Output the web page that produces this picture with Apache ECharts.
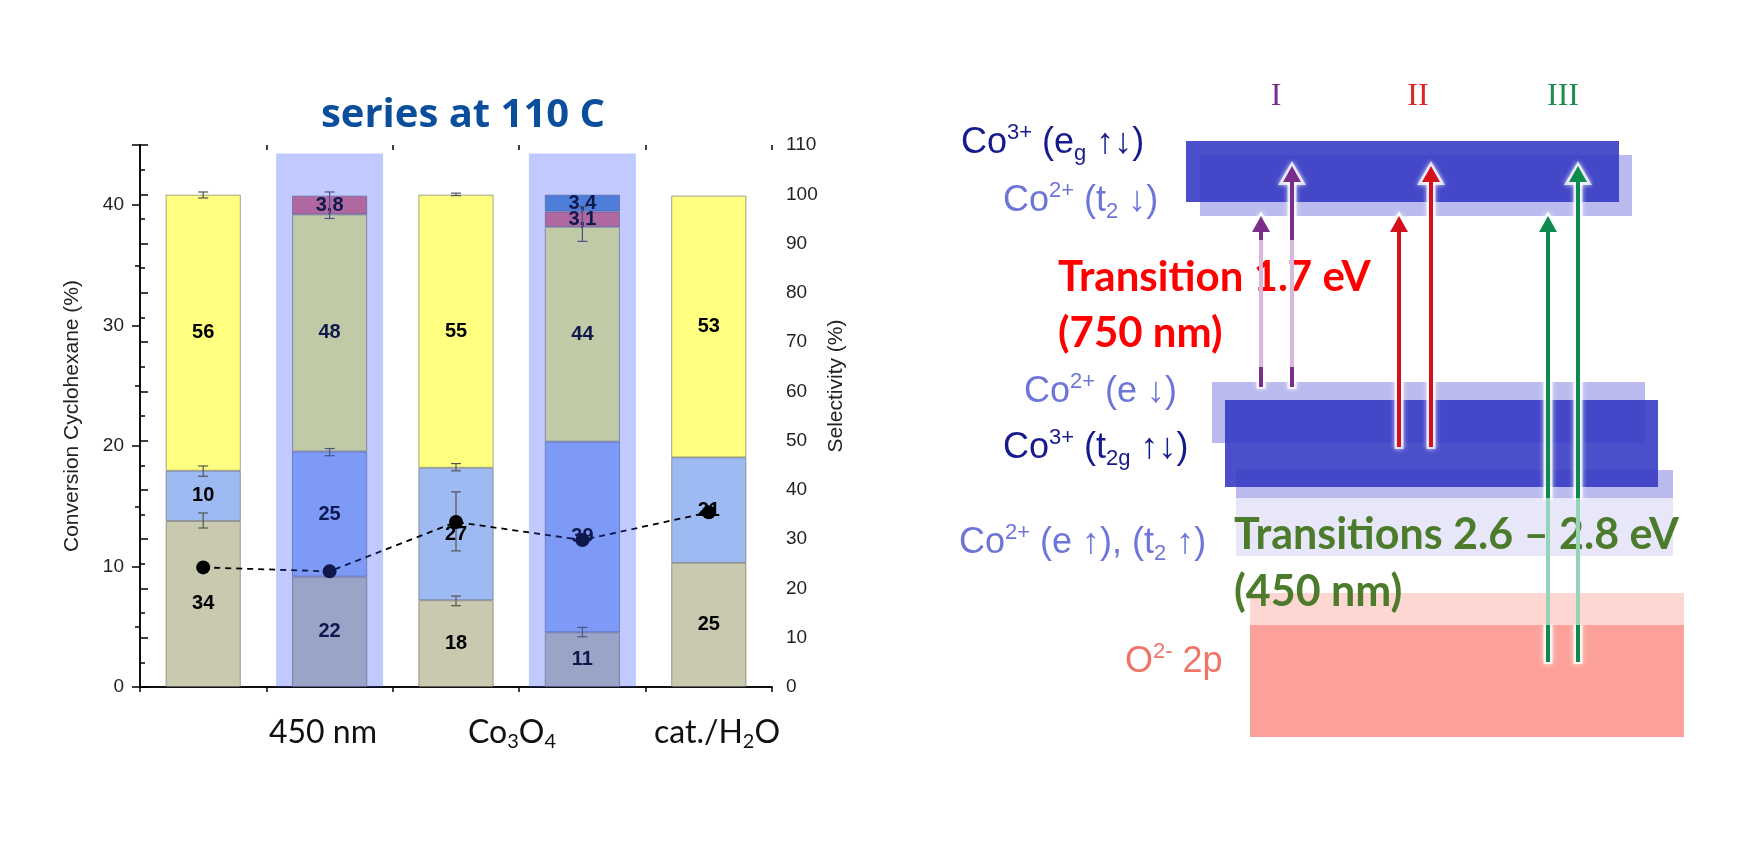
<!DOCTYPE html>
<html>
<head>
<meta charset="utf-8">
<script src="https://cdn.jsdelivr.net/npm/echarts@6.0.0/dist/echarts.min.js"></script>
<style>
  html, body { margin: 0; background: #fff; }
  #main { width: 1754px; height: 841px; }
</style>
</head>
<body>
<div id="main"></div>
<script>
// ---- left chart: five runs at 110 C ----
const runs = ['1', '2', '3', '4', '5'];
// selectivity (%), stacked bottom -> top
const selOlive = [33.7, 22.4, 17.6, 11.1, 25.2];
const selLightBlue = [10.2, 25.4, 26.9, 38.7, 21.4];
const selYellow = [56.0, 48.1, 55.4, 43.6, 53.1];
const selSalmon = [null, 3.8, null, 3.1, null];
const selSteel = [null, null, null, 3.4, null];
// conversion cyclohexane (%)
const conversion = [9.93, 9.6, 13.7, 12.2, 14.5];
// error bars, conversion scale
const errRun = [0, 0, 0, 1, 1, 2, 2, 2, 2, 3, 3];
const errLow = [40.6, 17.5, 13.2, 38.9, 19.2, 40.8, 17.95, 11.3, 6.75, 37.0, 4.17];
const errHigh = [41.1, 18.35, 14.45, 41.1, 19.8, 41.0, 18.55, 16.2, 7.55, 39.9, 4.95];
// irradiated runs (450 nm band)
const irradiated = [null, 44.3, null, 44.3, null];

// ---- right: energy level scheme (schematic units) ----
const levelX0 = [25.0, 23.6, 26.2, 28.6, 28.6, 27.5, 30.0, 30.0];
const levelX1 = [68.2, 66.9, 69.5, 72.3, 72.3, 70.8, 73.4, 73.4];
const levelY0 = [54.4, 55.8, 31.7, 26.2, 20.4, 27.3, 13.5, 2.3];
const levelY1 = [60.5, 61.9, 37.8, 29.0, 26.2, 36.0, 16.7, 13.5];
const arrowX = [31.1, 34.2, 44.9, 48.1, 59.8, 62.8];
const arrowFrom = [37.3, 37.3, 31.3, 31.3, 9.8, 9.8];
const arrowTo = [54.4, 59.4, 54.4, 59.4, 54.4, 59.4];
const fadeFrom = [39.3, 39.3, null, null, 13.5, 13.5];
const fadeTo = [52.0, 52.0, null, null, 26.2, 26.2];

// styles
const dark = 'rgba(50,55,195,0.88)';
const light = 'rgba(110,110,220,0.48)';
const faint = 'rgba(110,110,220,0.17)';
const levelFill = [light, dark, light, light, faint, dark, 'rgba(252,140,130,0.35)', '#FCA19A'];
const arrowColor = ['#7B2D8B', '#7B2D8B', '#D4101C', '#D4101C', '#0F8A4E', '#0F8A4E'];
const arrowPale = ['#D9B8DD', '#D9B8DD', null, null, '#94D3B6', '#94D3B6'];
const navy = '#151A8C', lilac = '#6E75D8';

const fmtSel = p => p.value == null ? '' :
  (p.value < 10 ? p.value.toFixed(1).replace('.', ',') : String(Math.round(p.value)));

function barSeries(name, data, color) {
  return {
    name, type: 'bar', data, stack: 'sel', xAxisIndex: 0, yAxisIndex: 1, barWidth: 75,
    itemStyle: { color, borderColor: 'rgba(90,90,90,0.7)', borderWidth: 0.8 },
    label: { show: true, position: 'inside', formatter: fmtSel, color: '#000',
      fontFamily: 'Liberation Sans', fontWeight: 'bold', fontSize: 20 },
    z: 2
  };
}

function renderErr(params, api) {
  const lo = api.coord([api.value(0), api.value(1)]);
  const hi = api.coord([api.value(0), api.value(2)]);
  const w = 5;
  const st = { stroke: '#555', lineWidth: 1.2 };
  return { type: 'group', children: [
    { type: 'line', shape: { x1: lo[0], y1: lo[1], x2: hi[0], y2: hi[1] }, style: st },
    { type: 'line', shape: { x1: lo[0] - w, y1: lo[1], x2: lo[0] + w, y2: lo[1] }, style: st },
    { type: 'line', shape: { x1: hi[0] - w, y1: hi[1], x2: hi[0] + w, y2: hi[1] }, style: st }
  ] };
}

function renderLevel(params, api) {
  const p0 = api.coord([api.value(0), api.value(3)]);
  const p1 = api.coord([api.value(1), api.value(2)]);
  return { type: 'rect', shape: { x: p0[0], y: p0[1], width: p1[0] - p0[0], height: p1[1] - p0[1] },
    style: { fill: levelFill[params.dataIndex] } };
}

function renderArrow(params, api) {
  const i = params.dataIndex;
  const x = api.value(0);
  const b = api.coord([x, api.value(1)]);
  const t = api.coord([x, api.value(2)]);
  const px = b[0];
  const headH = 16, headW = 9;
  const baseY = t[1] + headH;
  const halo = { stroke: '#fff', lineWidth: 9, opacity: 0.75, shadowBlur: 5, shadowColor: '#fff' };
  const segs = [];
  if (fadeFrom[i] != null) {
    const f0 = api.coord([x, fadeFrom[i]])[1];
    const f1 = api.coord([x, fadeTo[i]])[1];
    segs.push([b[1], f0, arrowColor[i]], [f0, f1, arrowPale[i]], [f1, baseY, arrowColor[i]]);
  } else {
    segs.push([b[1], baseY, arrowColor[i]]);
  }
  const children = [];
  // white halo only behind the solid parts
  segs.forEach(s => {
    if (s[2] === arrowColor[i]) {
      children.push({ type: 'line', shape: { x1: px, y1: s[0] + 2, x2: px, y2: s[1] }, style: halo });
    }
  });
  children.push({ type: 'polygon',
    shape: { points: [[px, t[1] - 5], [px - headW - 5, baseY + 3], [px + headW + 5, baseY + 3]] },
    style: { fill: '#fff', opacity: 0.75, shadowBlur: 5, shadowColor: '#fff' } });
  segs.forEach(s => children.push({ type: 'line', shape: { x1: px, y1: s[0], x2: px, y2: s[1] },
    style: { stroke: s[2], lineWidth: 4 } }));
  children.push({ type: 'polygon', shape: { points: [[px, t[1]], [px - headW, baseY], [px + headW, baseY]] },
    style: { fill: arrowColor[i] } });
  return { type: 'group', children };
}

// text helpers (sup/sub via rich text)
function richText(text, x, y, color, size, family, weight, align, rotation) {
  const small = Math.round(size * 0.62);
  const lh = Math.round(size * 1.2);
  return {
    type: 'text', x, y, z: 4, rotation: rotation || 0,
    style: {
      text, fill: color, fontSize: size, fontFamily: family, fontWeight: weight || 'normal',
      align: align || 'left', verticalAlign: 'middle', lineHeight: lh,
      rich: {
        sup: { fontSize: small, fill: color, fontFamily: family, verticalAlign: 'top', lineHeight: small },
        sub: { fontSize: small, fill: color, fontFamily: family, verticalAlign: 'bottom', lineHeight: small }
      }
    }
  };
}

const graphics = [
  richText('series at 110 C', 463, 116, '#0B4F9C', 40, 'Open Sans', 'bold', 'center'),
  richText('Selectivity (%)', 836, 386, '#222', 21, 'Liberation Sans', 'normal', 'center', Math.PI / 2),
  richText('450 nm', 323, 733, '#111', 32, 'Lato', 'normal', 'center'),
  richText('Co{sub|3}O{sub|4}', 512, 733, '#111', 32, 'Lato', 'normal', 'center'),
  richText('cat./H{sub|2}O', 717, 733, '#111', 32, 'Lato', 'normal', 'center'),
  richText('I', 1276, 97, '#7B2D8B', 32, 'Liberation Serif', 'normal', 'center'),
  richText('II', 1418, 97, '#E02428', 32, 'Liberation Serif', 'normal', 'center'),
  richText('III', 1563, 97, '#1E8C4E', 32, 'Liberation Serif', 'normal', 'center'),
  richText('Co{sup|3+} (e{sub|g} ↑↓)', 961, 143, navy, 36, 'Liberation Sans'),
  richText('Co{sup|2+} (t{sub|2} ↓)', 1003, 201, lilac, 36, 'Liberation Sans'),
  richText('Transition 1.7 eV', 1058, 277, '#FF0000', 42, 'Lato', 'bold'),
  richText('(750 nm)', 1058, 333, '#FF0000', 42, 'Lato', 'bold'),
  richText('Co{sup|2+} (e ↓)', 1024, 392, lilac, 36, 'Liberation Sans'),
  richText('Co{sup|3+} (t{sub|2g} ↑↓)', 1003, 448, navy, 36, 'Liberation Sans'),
  richText('Co{sup|2+} (e ↑), (t{sub|2} ↑)', 959, 543, lilac, 36, 'Liberation Sans'),
  richText('Transitions 2.6 – 2.8 eV', 1234, 535, '#4B7B2B', 43, 'Lato', 'bold'),
  richText('(450 nm)', 1234, 592, '#4B7B2B', 43, 'Lato', 'bold'),
  richText('O{sup|2-} 2p', 1125, 662, '#F07566', 36, 'Liberation Sans')
];

const axisBlack = { lineStyle: { color: '#000', width: 1.5 } };
const tickFont = { fontFamily: 'Liberation Sans', fontSize: 19, color: '#222' };

const option = {
  backgroundColor: '#fff',
  animation: false,
  grid: [
    { left: 140, top: 145, width: 632, height: 542, outerBoundsMode: 'none' },
    { left: 950, top: 60, width: 740, height: 700, outerBoundsMode: 'none' }
  ],
  xAxis: [
    { type: 'category', data: runs, gridIndex: 0, position: 'bottom',
      axisLine: axisBlack, axisTick: { alignWithLabel: true, length: 8, lineStyle: { color: '#000', width: 1.5 } },
      axisLabel: { show: false }, splitLine: { show: false } },
    { type: 'category', data: runs, gridIndex: 0, position: 'top',
      axisLine: axisBlack, axisTick: { alignWithLabel: true, inside: true, length: 9, lineStyle: { color: '#000', width: 1.5 } },
      axisLabel: { show: false }, splitLine: { show: false } },
    { type: 'value', gridIndex: 0, position: 'bottom', min: 0, max: 5, interval: 1,
      axisLine: { show: false }, axisTick: { length: 5, lineStyle: { color: '#000', width: 1.5 } },
      axisLabel: { show: false }, splitLine: { show: false } },
    { type: 'value', gridIndex: 0, position: 'top', min: 0, max: 5, interval: 1,
      axisLine: { show: false }, axisTick: { inside: true, length: 5, lineStyle: { color: '#000', width: 1.5 } },
      axisLabel: { show: false }, splitLine: { show: false } },
    { type: 'value', gridIndex: 1, min: 0, max: 74, show: false }
  ],
  yAxis: [
    { type: 'value', gridIndex: 0, position: 'left', min: 0, max: 45, interval: 5,
      name: 'Conversion Cyclohexane (%)', nameLocation: 'middle', nameRotate: 90, nameGap: 57,
      nameTextStyle: { fontFamily: 'Liberation Sans', fontSize: 21, color: '#222' },
      axisLine: { show: true, lineStyle: { color: '#000', width: 1.5 } },
      axisTick: { show: true, length: 5, lineStyle: { color: '#000', width: 1.5 } },
      axisLabel: Object.assign({ margin: 16, formatter: v => (v % 10 === 0 ? String(v) : '') }, tickFont),
      splitLine: { show: false } },
    { type: 'value', gridIndex: 0, position: 'right', min: 0, max: 110, interval: 10,
      axisLine: { show: true, lineStyle: { color: '#000', width: 1.5 } },
      axisTick: { show: true, length: 8, lineStyle: { color: '#000', width: 1.5 } },
      minorTick: { show: true, splitNumber: 2, length: 5, lineStyle: { color: '#000', width: 1.5 } },
      axisLabel: Object.assign({ margin: 14 }, tickFont),
      splitLine: { show: false }, minorSplitLine: { show: false } },
    { type: 'value', gridIndex: 0, position: 'left', min: 0, max: 45, interval: 10,
      axisLine: { show: false }, axisTick: { show: true, length: 8, lineStyle: { color: '#000', width: 1.5 } },
      axisLabel: { show: false }, splitLine: { show: false } },
    { type: 'value', gridIndex: 1, min: 0, max: 70, show: false }
  ],
  graphic: graphics,
  series: [
    barSeries('olive', selOlive, '#C8C9AE'),
    barSeries('light blue', selLightBlue, '#9DBAF2'),
    barSeries('yellow', selYellow, '#FFFF80'),
    barSeries('salmon', selSalmon, '#E67577'),
    barSeries('steel', selSteel, '#5B93CB'),
    { name: 'errors', type: 'custom', xAxisIndex: 0, yAxisIndex: 0, z: 3,
      renderItem: renderErr,
      data: errRun.map((r, i) => [r, errLow[i], errHigh[i]]) },
    { name: 'conversion', type: 'line', xAxisIndex: 0, yAxisIndex: 0, z: 4,
      data: conversion, symbol: 'circle', symbolSize: 14,
      itemStyle: { color: '#000' },
      lineStyle: { color: '#000', width: 1.8, type: [6, 5] } },
    { name: '450 nm band', type: 'bar', xAxisIndex: 1, yAxisIndex: 0, z: 10,
      data: irradiated, barWidth: 107,
      itemStyle: { color: 'rgba(50,80,255,0.3)' } },
    { name: 'levels', type: 'custom', xAxisIndex: 4, yAxisIndex: 3, z: 2,
      renderItem: renderLevel,
      data: levelX0.map((x, i) => [x, levelX1[i], levelY0[i], levelY1[i]]) },
    { name: 'transitions', type: 'custom', xAxisIndex: 4, yAxisIndex: 3, z: 6,
      renderItem: renderArrow,
      data: arrowX.map((x, i) => [x, arrowFrom[i], arrowTo[i]]) }
  ]
};

const chart = echarts.init(document.getElementById('main'));
chart.setOption(option);
window.addEventListener('resize', () => chart.resize());
</script>
</body>
</html>
